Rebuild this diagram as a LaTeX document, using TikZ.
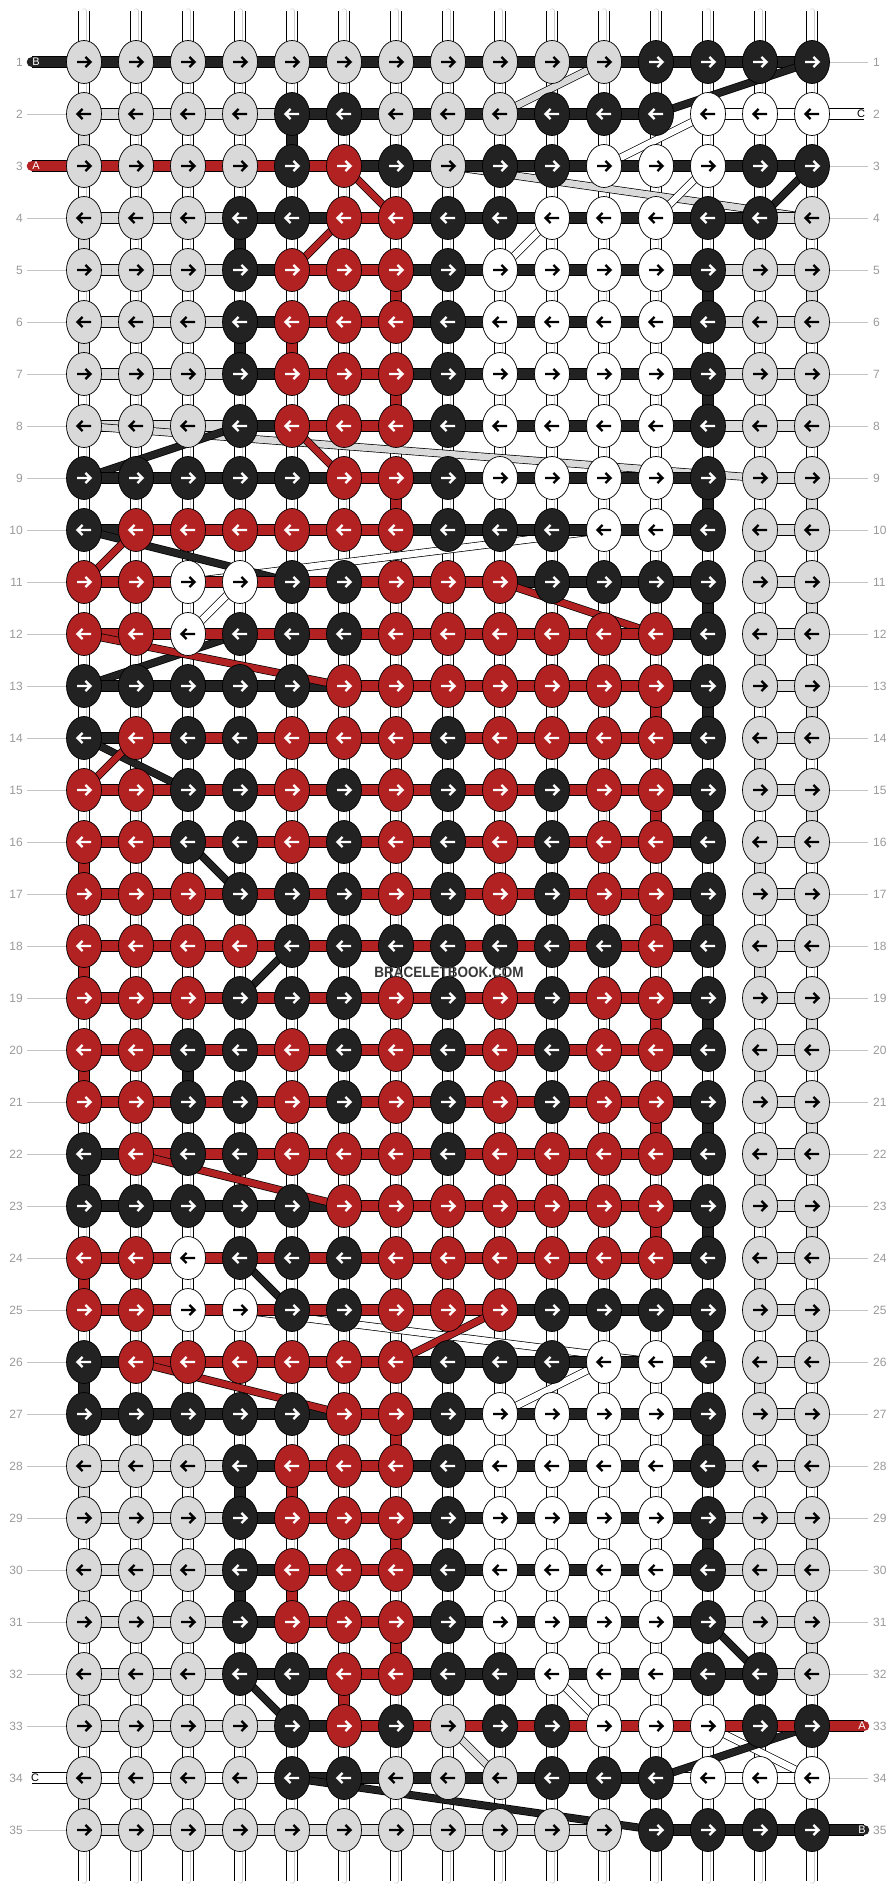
\documentclass[tikz,border=0pt]{standalone}
\usepackage{fontspec}
\setmainfont{Liberation Sans}
\usepackage{graphicx}
\usepackage{tikz}
\usetikzlibrary{shapes.geometric}
\usepackage{xcolor}
\definecolor{knotG}{HTML}{D9D9D9}
\definecolor{knotK}{HTML}{222222}
\definecolor{knotR}{HTML}{B22222}
\definecolor{knotW}{HTML}{FFFFFF}
\definecolor{labgrey}{HTML}{9A9A9A}
\definecolor{linegrey}{HTML}{C4C4C4}

\tikzset{
  knot/.style={ellipse, draw=black, line width=0.7pt, minimum width=35pt, minimum height=43pt, inner sep=0pt},
  hbar/.style={draw=#1, line width=10.6pt, line cap=round, preaction={draw=black, line width=12pt}},
  vlink/.style={hbar=#1},
  dlink/.style={draw=#1, line width=6.6pt, line cap=round, preaction={draw=black, line width=8pt}},
  basestr/.style={draw=white, line width=10pt, line cap=round, preaction={draw=black, line width=11.3pt},
    postaction={draw=gray!40, line width=5pt}, postaction={draw=white, line width=3.8pt}},
  pics/knotarrow/.style={code={\draw[line width=2.3pt] (-7,0) -- (6,0) (1.4,-5) -- (6.6,0) -- (1.4,5);}},
  tipG/.style={black}, tipW/.style={black}, tipK/.style={white}, tipR/.style={white},
  rowlab/.style={text=labgrey, font=\fontsize{12}{13}\selectfont, inner sep=0pt},
  rowline/.style={draw=linegrey, line width=0.9pt},
  stubtext/.style={font=\fontsize{11}{12}\selectfont, inner sep=0pt},
  wmark/.style={text=black!78, font=\bfseries\fontsize{15}{16}\selectfont, inner sep=0pt}
}

\newcommand\strand[3]{%
  \foreach \rw/\fc/\lc [remember=\rw as \prw (initially 0), remember=\lc as \plc (initially 0)] in {#3} {
    \ifnum\prw>0
      \ifnum\plc=\fc\relax
        \path[#2] (p\prw-\plc) -- (p\rw-\fc);
      \else
        \path[dlink=#1] (p\prw-\plc) -- (p\rw-\fc);
      \fi
    \fi
    \path[hbar=#1] (p\rw-\fc) -- (p\rw-\lc);
  }}

\begin{document}
\begin{tikzpicture}[x=1pt, y=-1pt]
  \fill[white] (0,0) rectangle (896,1892);
  \useasboundingbox (0,0) rectangle (896,1892);
  \foreach \r in {1,...,35}
    \foreach \j in {0,...,16}
      \coordinate (p\r-\j) at ({32+52*\j},{10+52*\r});
  \foreach \j in {1,...,15} {
    \coordinate (top\j) at ({32+52*\j},11);
    \coordinate (bot\j) at ({32+52*\j},1881);
    \path[basestr] (top\j) -- (bot\j);
  }
  \strand{knotG}{vlink=knotG}{1/1/11, 2/9/1, 3/1/8, 4/15/1, 5/1/15, 6/15/1, 7/1/15, 8/15/1,
    9/14/15, 10/15/14, 11/14/15, 12/15/14, 13/14/15, 14/15/14, 15/14/15, 16/15/14, 17/14/15,
    18/15/14, 19/14/15, 20/15/14, 21/14/15, 22/15/14, 23/14/15, 24/15/14, 25/14/15, 26/15/14,
    27/14/15, 28/15/1, 29/1/15, 30/15/1, 31/1/15, 32/15/1, 33/1/8, 34/9/1, 35/1/11}
  \strand{knotW}{}{2/16/13, 3/11/13, 4/12/10, 5/9/12, 6/12/9, 7/9/12, 8/12/9, 9/9/12, 10/12/11,
    11/3/4, 12/3/3, 24/3/3, 25/3/4, 26/12/11, 27/9/12, 28/12/9, 29/9/12, 30/12/9, 31/9/12,
    32/12/10, 33/11/13, 34/15/0}
  \strand{knotK}{vlink=knotK}{1/0/15, 2/12/5, 3/5/15, 4/14/4, 5/4/13, 6/13/4, 7/4/13, 8/13/4,
    9/1/13, 10/13/1, 11/5/13, 12/13/4, 13/1/13, 14/13/1, 15/3/13, 16/13/3, 17/4/13, 18/13/5,
    19/4/13, 20/13/3, 21/3/13, 22/13/1, 23/1/13, 24/13/4, 25/5/13, 26/13/1, 27/1/13, 28/13/4,
    29/4/13, 30/13/4, 31/4/13, 32/14/4, 33/5/15, 34/12/5, 35/12/16}
  \strand{knotR}{vlink=knotR}{3/0/6, 4/7/6, 5/5/7, 6/7/5, 7/5/7, 8/7/5, 9/6/7, 10/7/2, 11/1/9,
    12/12/1, 13/6/12, 14/12/2, 15/1/12, 16/12/1, 17/1/12, 18/12/1, 19/1/12, 20/12/1, 21/1/12,
    22/12/2, 23/6/12, 24/12/1, 25/1/9, 26/7/2, 27/6/7, 28/7/5, 29/5/7, 30/7/5, 31/5/7, 32/7/6,
    33/6/16}
  \foreach \r/\pat in {
    1/{G,G,G,G,G,G,G,G,G,G,G,K,K,K,K},
    2/{G,G,G,G,K,K,G,G,G,K,K,K,W,W,W},
    3/{G,G,G,G,K,R,K,G,K,K,W,W,W,K,K},
    4/{G,G,G,K,K,R,R,K,K,W,W,W,K,K,G},
    5/{G,G,G,K,R,R,R,K,W,W,W,W,K,G,G},
    6/{G,G,G,K,R,R,R,K,W,W,W,W,K,G,G},
    7/{G,G,G,K,R,R,R,K,W,W,W,W,K,G,G},
    8/{G,G,G,K,R,R,R,K,W,W,W,W,K,G,G},
    9/{K,K,K,K,K,R,R,K,W,W,W,W,K,G,G},
    10/{K,R,R,R,R,R,R,K,K,K,W,W,K,G,G},
    11/{R,R,W,W,K,K,R,R,R,K,K,K,K,G,G},
    12/{R,R,W,K,K,K,R,R,R,R,R,R,K,G,G},
    13/{K,K,K,K,K,R,R,R,R,R,R,R,K,G,G},
    14/{K,R,K,K,R,R,R,K,R,R,R,R,K,G,G},
    15/{R,R,K,K,R,K,R,K,R,K,R,R,K,G,G},
    16/{R,R,K,K,R,K,R,K,R,K,R,R,K,G,G},
    17/{R,R,R,K,K,K,R,K,R,K,R,R,K,G,G},
    18/{R,R,R,R,K,K,K,K,K,K,K,R,K,G,G},
    19/{R,R,R,K,K,K,R,K,R,K,R,R,K,G,G},
    20/{R,R,K,K,R,K,R,K,R,K,R,R,K,G,G},
    21/{R,R,K,K,R,K,R,K,R,K,R,R,K,G,G},
    22/{K,R,K,K,R,R,R,K,R,R,R,R,K,G,G},
    23/{K,K,K,K,K,R,R,R,R,R,R,R,K,G,G},
    24/{R,R,W,K,K,K,R,R,R,R,R,R,K,G,G},
    25/{R,R,W,W,K,K,R,R,R,K,K,K,K,G,G},
    26/{K,R,R,R,R,R,R,K,K,K,W,W,K,G,G},
    27/{K,K,K,K,K,R,R,K,W,W,W,W,K,G,G},
    28/{G,G,G,K,R,R,R,K,W,W,W,W,K,G,G},
    29/{G,G,G,K,R,R,R,K,W,W,W,W,K,G,G},
    30/{G,G,G,K,R,R,R,K,W,W,W,W,K,G,G},
    31/{G,G,G,K,R,R,R,K,W,W,W,W,K,G,G},
    32/{G,G,G,K,K,R,R,K,K,W,W,W,K,K,G},
    33/{G,G,G,G,K,R,K,G,K,K,W,W,W,K,K},
    34/{G,G,G,G,K,K,G,G,G,K,K,K,W,W,W},
    35/{G,G,G,G,G,G,G,G,G,G,G,K,K,K,K}} {
    \pgfmathsetmacro\dir{2*isodd(\r)-1}
    \foreach \c [count=\j] in \pat {
      \node[knot, fill=knot\c] (k\r-\j) at (p\r-\j) {};
      \pic[tip\c, xscale=\dir] at (p\r-\j) {knotarrow};
    }
  }
  \foreach \r in {1,...,35} {
    \node[rowlab, anchor=east] (lab\r) at (23,{10+52*\r}) {\r};
    \node[rowlab, anchor=west] (rab\r) at (873,{10+52*\r}) {\r};
  }
  \foreach \r in {2,4,5,...,33,35}
    \draw[rowline] (27,{10+52*\r}) -- (66,{10+52*\r});
  \foreach \r in {1,3,4,...,32,34}
    \draw[rowline] (830,{10+52*\r}) -- (868,{10+52*\r});
  \node[stubtext, text=white] (stubB1) at (36,62) {B};
  \node[stubtext, text=white] (stubA1) at (36,166) {A};
  \node[stubtext] (stubC1) at (35,1778) {C};
  \node[stubtext] (stubC2) at (861,114) {C};
  \node[stubtext, text=white] (stubA2) at (862,1726) {A};
  \node[stubtext, text=white] (stubB2) at (862,1830) {B};
  \node[wmark] (site) at (449,972) {\scalebox{0.9}[1]{BRACELETBOOK.COM}};
\end{tikzpicture}
\end{document}
